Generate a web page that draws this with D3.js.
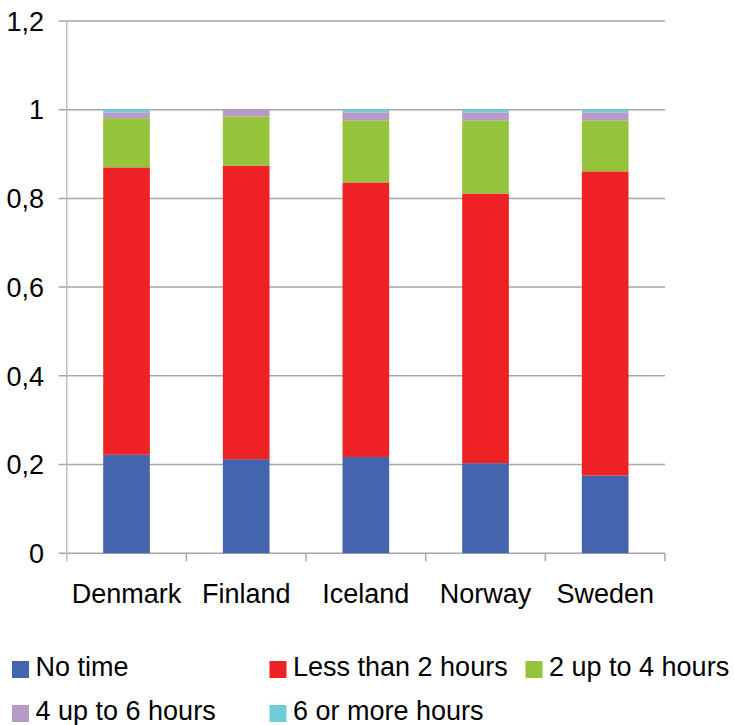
<!DOCTYPE html>
<html>
<head>
<meta charset="utf-8">
<script src="https://cdn.jsdelivr.net/npm/d3@7"></script>
<style>
  body { margin: 0; background: #fff; }
  text { font-family: "Liberation Sans", Arial, sans-serif; fill: #000; }
</style>
</head>
<body>
<svg width="734" height="725"></svg>
<script>
const countries = ["Denmark", "Finland", "Iceland", "Norway", "Sweden"];
const seriesNames = ["No time", "Less than 2 hours", "2 up to 4 hours", "4 up to 6 hours", "6 or more hours"];
const seriesColors = ["#4465ae", "#ee2124", "#95c43c", "#b89ac8", "#6ecdd8"];

const noTime = [0.222, 0.212, 0.217, 0.203, 0.175];
const lessThan2 = [0.648, 0.662, 0.619, 0.608, 0.686];
const upTo4 = [0.111, 0.111, 0.140, 0.165, 0.115];
const upTo6 = [0.013, 0.015, 0.018, 0.018, 0.018];
const sixOrMore = [0.006, 0.000, 0.006, 0.006, 0.006];

const yTicks = [0, 0.2, 0.4, 0.6, 0.8, 1, 1.2];

const table = countries.map((c, i) => ({
  country: c,
  s0: noTime[i], s1: lessThan2[i], s2: upTo4[i], s3: upTo6[i], s4: sixOrMore[i]
}));
const keys = ["s0", "s1", "s2", "s3", "s4"];
const stacked = d3.stack().keys(keys)(table);

const svg = d3.select("svg");
const plotLeft = 66.7, plotRight = 665, plotTop = 21, plotBottom = 553.2;

const x = d3.scaleBand().domain(countries).range([plotLeft, plotRight]).padding(0);
const y = d3.scaleLinear().domain([0, 1.2]).range([plotBottom, plotTop]);

// gridlines
svg.append("g")
  .selectAll("line")
  .data(yTicks)
  .join("line")
  .attr("x1", plotLeft - 8)
  .attr("x2", plotRight)
  .attr("y1", d => y(d))
  .attr("y2", d => y(d))
  .style("stroke", "#a6a6a6")
  .style("stroke-width", 1.5);

// y axis line
svg.append("line")
  .attr("x1", plotLeft).attr("x2", plotLeft)
  .attr("y1", plotTop).attr("y2", plotBottom + 8)
  .style("stroke", "#bdbdbd")
  .style("stroke-width", 1.5);

// x ticks at band boundaries
const boundaries = countries.map(c => x(c)).concat([x(countries[countries.length - 1]) + x.bandwidth()]);
svg.append("g")
  .selectAll("line")
  .data(boundaries.slice(1))
  .join("line")
  .attr("x1", d => d).attr("x2", d => d)
  .attr("y1", plotBottom).attr("y2", plotBottom + 8)
  .style("stroke", "#a6a6a6")
  .style("stroke-width", 1.5);

// y labels
svg.append("g")
  .selectAll("text")
  .data(yTicks)
  .join("text")
  .attr("x", 44)
  .attr("y", d => y(d))
  .attr("dy", "0.36em")
  .attr("text-anchor", "end")
  .style("font-size", "27px")
  .text(d => d3.format("~g")(d).replace(".", ","));

// x labels
svg.append("g")
  .selectAll("text")
  .data(countries)
  .join("text")
  .attr("x", d => x(d) + x.bandwidth() / 2)
  .attr("y", 602.7)
  .attr("text-anchor", "middle")
  .style("font-size", "27px")
  .text(d => d);

// bars
const barW = x.bandwidth() * 0.39;
svg.append("g")
  .selectAll("g")
  .data(stacked)
  .join("g")
  .style("fill", (d, i) => seriesColors[i])
  .selectAll("rect")
  .data(d => d)
  .join("rect")
  .attr("x", d => x(d.data.country) + (x.bandwidth() - barW) / 2)
  .attr("y", d => y(d[1]))
  .attr("width", barW)
  .attr("height", d => y(d[0]) - y(d[1]));

// legend
const legendPos = [[12, 661], [269.5, 661], [525.5, 661], [12, 705], [269.5, 705]];
const legend = svg.append("g")
  .selectAll("g")
  .data(seriesNames)
  .join("g")
  .attr("transform", (d, i) => `translate(${legendPos[i][0]},${legendPos[i][1]})`);
legend.append("rect")
  .attr("width", 17)
  .attr("height", 17)
  .style("fill", (d, i) => seriesColors[i]);
legend.append("text")
  .attr("x", 23.5)
  .attr("y", 14.5)
  .style("font-size", "27px")
  .text(d => d);
</script>
</body>
</html>
